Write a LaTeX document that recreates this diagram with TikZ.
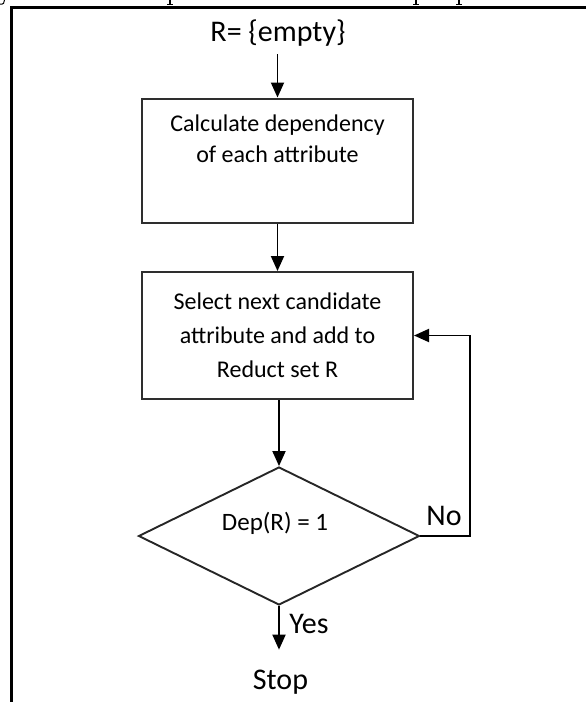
\documentclass[tikz,border=0pt]{standalone}
\usepackage{fontspec}
\setmainfont{Carlito}
\usetikzlibrary{shapes.geometric, arrows.meta}

\begin{document}
\begin{tikzpicture}[x=1pt, y=-1pt,
  box/.style={draw=black!82, line width=2pt, minimum width=271pt, inner sep=0pt},
  boxtext/.style={font=\fontsize{24}{34}\selectfont, align=center, inner sep=0pt},
  bigtext/.style={font=\fontsize{30}{36}\selectfont, inner sep=0pt},
  decision/.style={diamond, draw=black!85, line width=1.9pt, minimum width=281pt,
                   minimum height=138pt, inner sep=0pt},
  arr/.style={line width=1.9pt, -{Triangle[width=13pt,length=15pt]}},
  tableline/.style={line width=3pt, line join=miter}
]
\useasboundingbox (0,0) rectangle (586,702);

% surrounding table frame and the glyph tails of the line above it
\draw[tableline] (590,7) -- (11,7) -- (11,710);
\foreach \gx in {170,416,459} {
  \draw[line width=1.1pt] (\gx,0) -- (\gx,4.5);
  \draw[line width=0.9pt] (\gx-3,4.5) -- (\gx+3,4.5);
}
\draw[line width=1pt] (0,4) .. controls (3,5) and (5,2.5) .. (4.5,0);

% flowchart nodes
\node[bigtext, inner ysep=8pt] (start) at (278,33) {R= \{empty\}};
\node[box, minimum height=124pt] (calc) at (277.5,160.5) {};
\node[boxtext, font=\fontsize{24}{31.5}\selectfont] (calctext) at (277.5,139)
  {Calculate dependency\\of each attribute};
\node[box, boxtext, minimum height=127pt] (sel) at (277.5,335.5)
  {Select next candidate\\attribute and add to\\Reduct set R};
\node[decision] (dec) at (279,536) {};
\node[font=\fontsize{25}{30}\selectfont, inner sep=0pt] (deptext) at (275,523) {Dep(R) = 1};
\node[bigtext, inner ysep=20pt] (stop) at (280.5,682) {Stop};
\node[bigtext] (yes) at (309,624) {Yes};
\node[bigtext] (no) at (444,515.5) {No};

% connectors
\draw[arr] (start.south -| calc.north) -- (calc.north);
\draw[arr] (calc.south) -- (sel.north);
\draw[arr] (dec.north |- sel.south) -- (dec.north);
\draw[arr] (dec.south) -- (dec.south |- stop.north);
\draw[arr] (dec.east) -- ++(49.5,0) |- (sel.east);
\end{tikzpicture}
\end{document}
